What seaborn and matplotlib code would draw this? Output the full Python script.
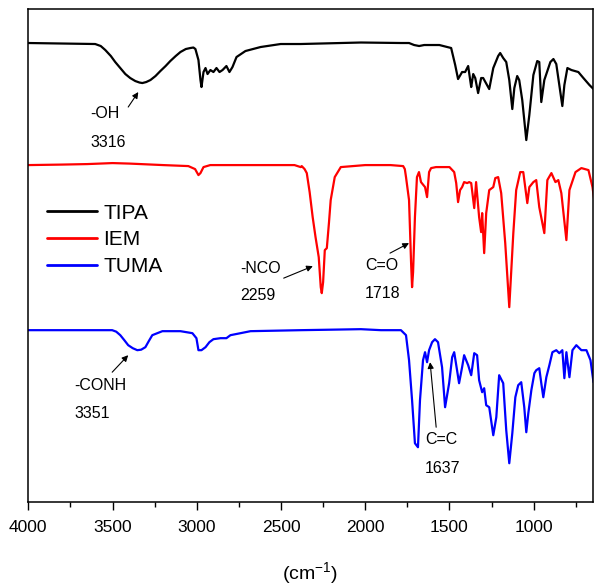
import numpy as np
import pandas as pd
import matplotlib
matplotlib.use("Agg")
import matplotlib.pyplot as plt
from matplotlib.ticker import MultipleLocator
import seaborn as sns

# ---- data (wavenumber in cm^-1, stacked intensity in arbitrary units) ----
tipa_wn = [4000, 3603, 3570, 3543, 3510, 3484, 3454, 3424, 3395, 3365, 3340, 3323, 3300, 3275,
           3245, 3216, 3185, 3157, 3125, 3097, 3065, 3038, 3020, 3008, 2990,
           2978, 2972, 2960, 2948, 2936, 2919, 2901, 2883, 2865, 2847, 2824, 2806, 2788, 2764,
           2711, 2621, 2502, 2383, 2145, 2026, 1788, 1740, 1710, 1680, 1650, 1560, 1490, 1466,
           1449, 1425, 1407, 1389, 1377, 1371, 1359, 1347, 1330, 1312, 1300, 1264, 1240, 1211,
           1199, 1181, 1163, 1145, 1127, 1115, 1098, 1086, 1068, 1044, 1026, 1002, 979, 967,
           955, 937, 913, 901, 883, 866, 848, 830, 818, 800, 776, 735, 705, 669, 645]
tipa_y = [459, 458, 456, 452, 446, 440, 434, 428, 424, 421, 419.5, 419, 420, 422,
          426, 431, 436, 441, 446, 450, 453, 454, 454.5, 453, 442,
          422, 415, 430, 434, 428, 432, 430, 434, 430, 432, 436, 430, 435, 445,
          451, 455, 458, 458, 459, 459.5, 459, 459, 457, 456, 457, 457, 454, 437,
          423, 430, 430, 436, 422, 415, 428, 424, 409, 424, 424, 413, 434, 446,
          449, 444, 440, 422, 393, 414, 426, 422, 402, 362, 387, 427, 441, 440,
          400, 422, 434, 440, 443, 438, 417, 396, 417, 434, 432, 430, 424, 417, 413]

iem_wn = [4000, 3800, 3650, 3500, 3400, 3200, 3050, 3010, 2990, 2978, 2960, 2920, 2800, 2600,
          2420, 2383, 2377, 2360, 2347, 2330, 2312, 2295, 2276, 2264, 2258, 2250, 2240, 2228,
          2215, 2205, 2181, 2145, 2000, 1850, 1775, 1765, 1758, 1740, 1728, 1722, 1716, 1705,
          1693, 1681, 1669, 1645, 1633, 1621, 1609, 1580, 1500, 1472, 1460, 1449, 1437, 1425,
          1413, 1395, 1383, 1371, 1353, 1342, 1324, 1312, 1306, 1294, 1282, 1264, 1240, 1228,
          1211, 1193, 1169, 1145, 1121, 1104, 1080, 1062, 1038, 1026, 1002, 985, 967, 937,
          919, 895, 871, 854, 836, 806, 788, 752, 717, 675, 651, 639]
iem_y = [337, 337.5, 338, 339, 338.5, 337, 336, 333, 327, 329, 335, 337, 337, 337,
         337, 335, 336, 333, 329, 310, 285, 265, 245, 215, 209, 220, 252, 254,
         280, 302, 325, 335, 337, 337, 336, 333, 325, 302, 240, 215, 230, 285,
         325, 330, 320, 315, 305, 330, 334, 335, 335, 330, 319, 300, 312, 315,
         320, 319, 320, 319, 294, 320, 285, 270, 289, 249, 289, 312, 315, 324,
         325, 309, 259, 195, 269, 312, 330, 330, 299, 315, 320, 322, 295, 269,
         322, 329, 320, 322, 309, 262, 312, 330, 334, 332, 315, 300]

tuma_wn = [4000, 3700, 3502, 3478, 3454, 3430, 3407, 3380, 3353, 3330, 3305, 3285, 3264, 3204,
           3097, 3026, 3002, 2990, 2972,
           2948, 2925, 2901, 2859, 2824, 2800, 2740, 2681, 2383, 2200, 2026, 1907, 1788, 1758,
           1740, 1722, 1705, 1687, 1675, 1657, 1645, 1633, 1621, 1603, 1586, 1568, 1544, 1526,
           1502, 1484, 1472, 1455, 1443, 1425, 1413, 1389, 1371, 1353, 1336, 1324, 1306, 1294,
           1282, 1264, 1240, 1222, 1205, 1181, 1163, 1145, 1127, 1109, 1092, 1074, 1056, 1044,
           1032, 1014, 996, 985, 967, 955, 943, 925, 907, 889, 866, 848, 830, 818,
           806, 788, 770, 747, 717, 687, 663, 645]
tuma_y = [172, 172, 172, 170.5, 167, 162, 157, 154, 152, 152.5, 155, 161, 167, 171,
          171, 169, 164, 152, 152,
          155, 160, 163, 164, 164, 167, 169, 171, 172, 172.5, 173, 172, 172, 167,
          142, 102, 59, 55, 102, 142, 150, 140, 152, 160, 163, 160, 135, 95,
          119, 145, 150, 132, 119, 135, 147, 137, 127, 149, 147, 122, 110, 114,
          97, 95, 67, 85, 127, 119, 72, 39, 69, 105, 117, 120, 95, 70,
          89, 112, 129, 132, 134, 119, 105, 125, 137, 150, 152, 149, 152, 124,
          150, 125, 152, 157, 152, 152, 142, 120]

series_names = ["TIPA", "IEM", "TUMA"]
series_colors = ["#000000", "#ff0000", "#0000ff"]

# annotations: (group label, wavenumber label)
annot_groups = ["-OH", "-NCO", "C=O", "-CONH", "C=C"]
annot_values = ["3316", "2259", "1718", "3351", "1637"]

x_ticks = [4000, 3500, 3000, 2500, 2000, 1500, 1000]

# ---- figure ----
sns.set_style("ticks")
plt.rcParams["font.family"] = ["Liberation Sans", "DejaVu Sans"]
plt.rcParams["mathtext.fontset"] = "custom"
plt.rcParams["mathtext.rm"] = "Liberation Sans"
plt.rcParams["text.color"] = "black"
plt.rcParams["axes.labelcolor"] = "black"
plt.rcParams["xtick.color"] = "black"
plt.rcParams["xtick.labelcolor"] = "black"

fig = plt.figure(figsize=(6.02, 5.88), dpi=100)
ax = fig.add_axes([0.047, 0.1458, 0.9375, 0.8389])

frames = []
for name, wn, yy in zip(series_names, [tipa_wn, iem_wn, tuma_wn], [tipa_y, iem_y, tuma_y]):
    frames.append(pd.DataFrame({"wn": wn, "y": yy, "series": name}))
df = pd.concat(frames, ignore_index=True)

for name, col in zip(series_names, series_colors):
    sns.lineplot(data=df[df["series"] == name], x="wn", y="y", color=col, lw=1.6,
                 sort=False, estimator=None, label=name, ax=ax)

ax.set_xlim(4000, 650)
ax.set_ylim(0, 493)
ax.set_xticks(x_ticks)
ax.set_xticklabels([str(t) for t in x_ticks])
ax.xaxis.set_minor_locator(MultipleLocator(250))
ax.set_yticks([])
ax.set_ylabel("")
ax.set_xlabel("(cm$^{-1}$)", fontsize=14, labelpad=18, color="black")
ax.tick_params(axis="x", which="major", direction="out", length=6, width=1,
               labelsize=12.5, pad=7, colors="black")
ax.tick_params(axis="x", which="minor", direction="out", length=3.5, width=1, colors="black")
for s in ax.spines.values():
    s.set_visible(True)
    s.set_linewidth(1.1)
    s.set_color("black")

leg = ax.legend(loc="center left", bbox_to_anchor=(0.033, 0.532), frameon=False,
                fontsize=15, handlelength=2.4, handletextpad=0.3, labelspacing=0.37,
                borderpad=0, borderaxespad=0)
for line in leg.get_lines():
    line.set_linewidth(2)
for t in leg.get_texts():
    t.set_color("black")

# annotation positions (text left x, name y, value y, arrow tail, arrow head)
annot_pos = [
    (3632, 389, 360, (3407, 395), (3347, 410)),
    (2739, 234, 207, (2484, 224), (2311, 236)),
    (2002, 237, 209, (1853, 249), (1740, 259)),
    (3728, 117, 89, (3502, 130), (3407, 147)),
    (1645, 63, 34, (1579, 75), (1615, 140)),
]
for g, v, (tx, ty1, ty2, tail, head) in zip(annot_groups, annot_values, annot_pos):
    ax.text(tx, ty1, g, ha="left", va="center", fontsize=11.5, color="black")
    ax.text(tx, ty2, v, ha="left", va="center", fontsize=11.5, color="black")
    ax.annotate("", xy=head, xytext=tail,
                arrowprops=dict(arrowstyle="-|>", color="black", lw=0.8,
                                mutation_scale=9, shrinkA=0, shrinkB=0))

fig.savefig("out.png", dpi=100)
